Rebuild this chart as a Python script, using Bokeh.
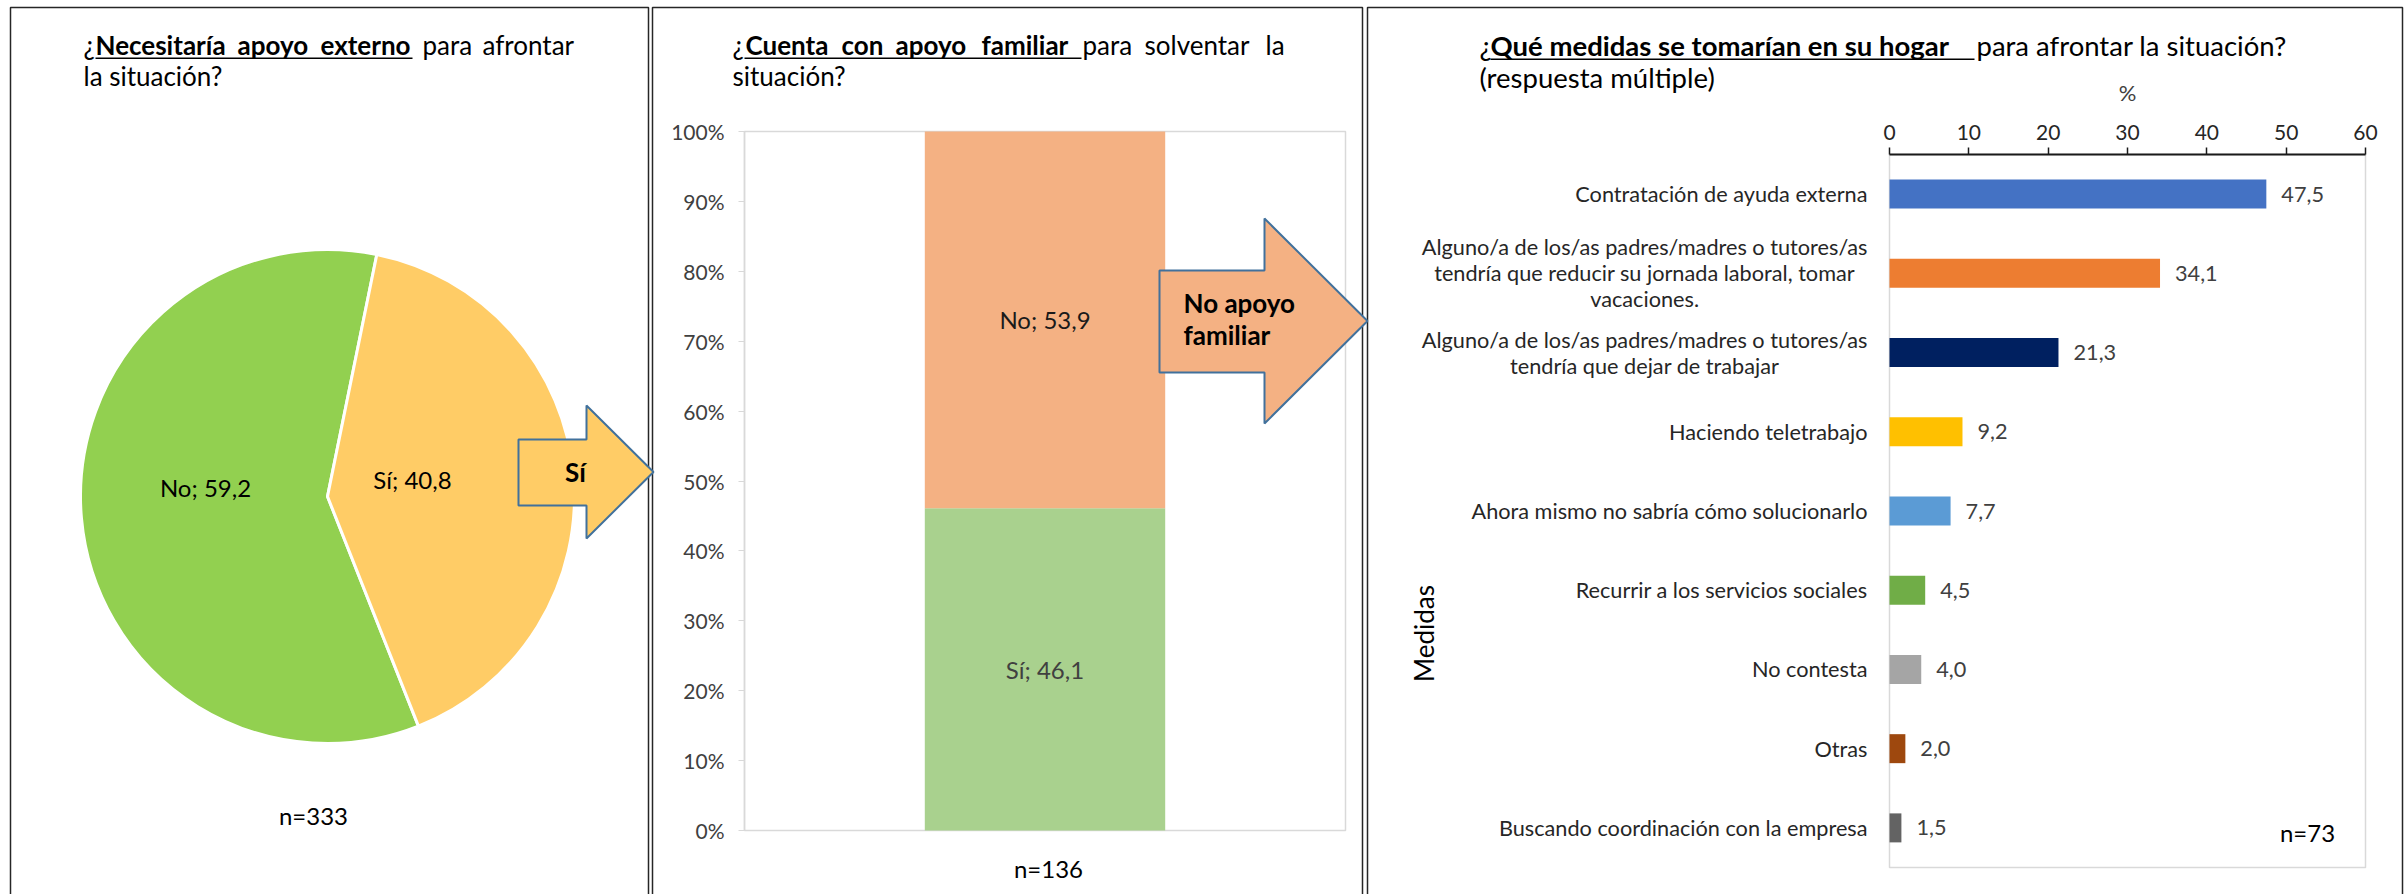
import numpy as np
from bokeh.plotting import figure
from bokeh.models import (Range1d, LinearAxis, FixedTicker, PrintfTickFormatter, Label,
                          ColumnDataSource)
from bokeh.embed import file_html
from bokeh.resources import INLINE
from bokeh.core.properties import value

# ---------------- data ----------------
pie_categories = ["No", "Sí"]
pie_values = [59.2, 40.8]
pie_n = "n=333"

family_categories = ["Sí", "No"]
family_values = [46.1, 53.9]
family_ticks = [0, 10, 20, 30, 40, 50, 60, 70, 80, 90, 100]
family_n = "n=136"

measure_categories = [
    "Contratación de ayuda externa",
    "Alguno/a de los/as padres/madres o tutores/as\ntendría que reducir su jornada laboral, tomar\nvacaciones.",
    "Alguno/a de los/as padres/madres o tutores/as\ntendría que dejar de trabajar",
    "Haciendo teletrabajo",
    "Ahora mismo no sabría cómo solucionarlo",
    "Recurrir a los servicios sociales",
    "No contesta",
    "Otras",
    "Buscando coordinación con la empresa",
]
measure_values = [47.5, 34.1, 21.3, 9.2, 7.7, 4.5, 4.0, 2.0, 1.5]
measure_ticks = [0, 10, 20, 30, 40, 50, 60]
measure_n = "n=73"

# ---------------- styles ----------------
FONT = "Lato"
PIE_COLORS = ["#92D050", "#FFCC66"]
FAMILY_COLORS = ["#A9D18E", "#F4B183"]
FAMILY_TEXT = ["#404040", "#1A1A1A"]
MEASURE_COLORS = ["#4472C4", "#ED7D31", "#002060", "#FFC000", "#5B9BD5",
                  "#70AD47", "#A5A5A5", "#9E480E", "#636363"]
ARROW_LINE = "#41719C"
BORDER = "#262626"
FRAME = "#D9D9D9"
TITLE_PX = 26
TITLE3_PX = 27.5
LABEL_PX = 24
TICK_PX = 21
CAT_PX = 21.7

# page geometry (pixels) - the figure fills the page from its top-left corner
X0, TOP = 0, 0
W, H = 2407, 894


def Y(py):
    return 1000 - py


def fmt(v):
    return f"{v:.1f}".replace(".", ",")


def xrange_for(v0, v1, px0, px1):
    k = (v1 - v0) / (px1 - px0)
    start = v0 - (px0 - X0) * k
    return Range1d(start, start + W * k)


def yrange_for(v0, v1, py0, py1):
    k = (v1 - v0) / (py0 - py1)
    start = v0 - ((TOP + H) - py0) * k
    return Range1d(start, start + H * k)


p = figure(width=W, height=H, x_range=Range1d(X0, X0 + W), y_range=Range1d(Y(TOP + H), Y(TOP)),
           x_axis_type=None, y_axis_type=None, toolbar_location=None,
           output_backend="svg", min_border=0)
p.outline_line_color = None
p.background_fill_color = "white"
p.border_fill_color = "white"


def lab(x, y, text, size, bold=False, align="left", color="black", angle=0.0):
    p.add_layout(Label(x=x, y=Y(y), text=text, text_font=FONT,
                       text_font_size=f"{size}px",
                       text_font_style="bold" if bold else "normal",
                       text_align=align, text_baseline="middle",
                       text_color=color, angle=angle))


def panel_border(l, r, t):
    p.line(x=[l, l, r, r], y=[Y(940), Y(t), Y(t), Y(940)], line_color=BORDER, line_width=1.5)


def title(line1, underline, y1, line2, y2, size=TITLE_PX):
    for x, txt, bold in line1:
        lab(x, y1, txt, size, bold=bold)
    ux1, ux2, uy = underline
    p.quad(left=ux1, right=ux2, top=Y(uy), bottom=Y(uy + 1.6), fill_color="black", line_color=None)
    lab(line2[0], y2, line2[1], size)


def block_arrow(left, body_t, body_b, head_x, head_t, head_b, tip_x, fill):
    mid = (head_t + head_b) / 2
    pts = [(left, body_t), (head_x, body_t), (head_x, head_t), (tip_x, mid),
           (head_x, head_b), (head_x, body_b), (left, body_b)]
    p.patch(x=[a for a, _ in pts], y=[Y(b) for _, b in pts], fill_color=fill,
            line_color=ARROW_LINE, line_width=2)


# ================= Panel 1: pie =================
panel_border(10, 648, 7)
title([(83, "¿", False), (95, "Necesitaría", True), (237, "apoyo", True), (320, "externo", True),
       (422, "para", False), (482, "afrontar", False)],
      (95, 412, 57), 44, (83, "la situación?"), 75)

PIE_CX, PIE_CY, PIE_R = 327, 496, 247
PIE_START_CW = 158.4
vals = np.array(pie_values)
cw = PIE_START_CW + np.concatenate([[0.0], np.cumsum(vals)]) / vals.sum() * 360.0
pie_src = ColumnDataSource(dict(cat=pie_categories,
                                start=np.deg2rad(90 - cw[1:]),
                                end=np.deg2rad(90 - cw[:-1]),
                                color=PIE_COLORS))
p.wedge(x=PIE_CX, y=Y(PIE_CY), radius=PIE_R, start_angle="start", end_angle="end",
        direction="anticlock", fill_color="color", line_color="white", line_width=3,
        source=pie_src)
pie_label_pos = [(205, 487), (412, 479)]
for (lx, ly), c, v in zip(pie_label_pos, pie_categories, pie_values):
    lab(lx, ly, f"{c}; {fmt(v)}", LABEL_PX, align="center")
lab(313, 815, pie_n, LABEL_PX, align="center")

# ================= Panel 2: stacked bar =================
p.extra_x_ranges["p2x"] = xrange_for(0, 1, 744, 1345)
p.extra_y_ranges["p2y"] = yrange_for(0, 100, 830, 131)

p.quad(left=0, right=1, bottom=0, top=100, fill_color=None, line_color=FRAME, line_width=1.5,
       x_range_name="p2x", y_range_name="p2y")
BAR_X = 0.5
fam_src = ColumnDataSource({"x": [BAR_X],
                            **{c: [v] for c, v in zip(family_categories, family_values)}})
p.vbar_stack(family_categories, x="x", width=0.4, color=FAMILY_COLORS, line_color=None,
             source=fam_src, x_range_name="p2x", y_range_name="p2y")
fv = np.array(family_values)
mids = np.concatenate([[0.0], np.cumsum(fv)[:-1]]) + fv / 2
p.text(x=[BAR_X] * len(family_categories), y=list(mids),
       text=[f"{c}; {fmt(v)}" for c, v in zip(family_categories, family_values)],
       text_color=FAMILY_TEXT, text_align="center", text_baseline="middle",
       text_font=value(FONT), text_font_size=f"{LABEL_PX}px",
       x_range_name="p2x", y_range_name="p2y")

yax = LinearAxis(y_range_name="p2y", ticker=FixedTicker(ticks=family_ticks),
                 formatter=PrintfTickFormatter(format="%d%%"),
                 fixed_location=744, bounds=(0, 100))
yax.axis_line_color = FRAME
yax.axis_line_width = 1.5
yax.major_tick_line_color = FRAME
yax.major_tick_out = 6
yax.major_tick_in = 0
yax.minor_tick_line_color = None
yax.major_label_standoff = 14
yax.major_label_text_font = FONT
yax.major_label_text_font_size = f"{TICK_PX}px"
yax.major_label_text_color = "#404040"
p.add_layout(yax, "left")

panel_border(652, 1362, 7)
title([(732, "¿", False), (745, "Cuenta", True), (841, "con", True), (895, "apoyo", True),
       (981, "familiar", True), (1082, "para", False), (1144, "solventar", False),
       (1265, "la", False)],
      (744, 1081, 57), 44, (732, "situación?"), 75)
lab(1048, 868, family_n, LABEL_PX, align="center")

# ================= Panel 3: horizontal bars =================
n_cat = len(measure_categories)
cat_pos = [float(n_cat - 1 - i) for i in range(n_cat)]   # first category on top
p.extra_x_ranges["p3x"] = xrange_for(0, 60, 1889, 2365)
p.extra_y_ranges["p3y"] = yrange_for(-0.5, n_cat - 0.5, 867, 154)

p.quad(left=0, right=60, bottom=-0.5, top=n_cat - 0.5, fill_color=None, line_color=FRAME,
       line_width=1.5, x_range_name="p3x", y_range_name="p3y")
m_src = ColumnDataSource(dict(pos=cat_pos, cat=measure_categories, val=measure_values,
                              zero=[0.0] * n_cat,
                              color=MEASURE_COLORS, lbl=[fmt(v) for v in measure_values]))
p.hbar(y="pos", left=0, right="val", height=0.366, fill_color="color", line_color=None,
       source=m_src, x_range_name="p3x", y_range_name="p3y")
p.text(x="val", y="pos", text="lbl", x_offset=15, text_align="left", text_baseline="middle",
       text_font=value(FONT), text_font_size=f"{CAT_PX}px", text_color="#404040",
       source=m_src, x_range_name="p3x", y_range_name="p3y")
# category names, right-anchored at the axis with centred lines
p.text(x="zero", y="pos", text="cat", x_offset=-22, anchor=value("center_right"),
       text_align="center", text_baseline="middle", text_line_height=1.0,
       text_font=value(FONT), text_font_size=f"{CAT_PX}px", text_color="#262626",
       source=m_src, x_range_name="p3x", y_range_name="p3y")

xax = LinearAxis(x_range_name="p3x", ticker=FixedTicker(ticks=measure_ticks), axis_label="%",
                 fixed_location=Y(154), bounds=(0, 60))
xax.axis_line_color = "#1A1A1A"
xax.axis_line_width = 2
xax.major_tick_line_color = "#1A1A1A"
xax.major_tick_line_width = 1.5
xax.major_tick_out = 7
xax.major_tick_in = 0
xax.minor_tick_line_color = None
xax.major_label_standoff = 8
xax.major_label_text_font = FONT
xax.major_label_text_font_size = f"{TICK_PX}px"
xax.major_label_text_color = "#262626"
xax.axis_label_text_font = FONT
xax.axis_label_text_font_size = "22px"
xax.axis_label_text_font_style = "normal"
xax.axis_label_text_color = "#404040"
xax.axis_label_standoff = 16
p.add_layout(xax, "above")

panel_border(1367, 2402, 7)
title([(1479, "¿", False), (1490, "Qué medidas se tomarían en su hogar", True),
       (1976, "para afrontar la situación?", False)],
      (1490, 1974, 58), 45, (1479, "(respuesta múltiple)"), 77, size=TITLE3_PX)
lab(1423, 633, "Medidas", 26, align="center", angle=np.pi / 2)
lab(2307, 832, measure_n, LABEL_PX, align="center")

# ================= arrows (drawn last, on top) =================
block_arrow(518, 439, 505, 586, 405, 538, 653, "#FFCC66")
lab(575, 471, "Sí", 26, bold=True, align="center")
block_arrow(1159, 270, 372, 1264, 218, 423, 1367, "#F4B183")
lab(1183, 302, "No apoyo", 26, bold=True)
lab(1183, 334, "familiar", 26, bold=True)

open("out.html", "w").write(file_html(p, INLINE))
